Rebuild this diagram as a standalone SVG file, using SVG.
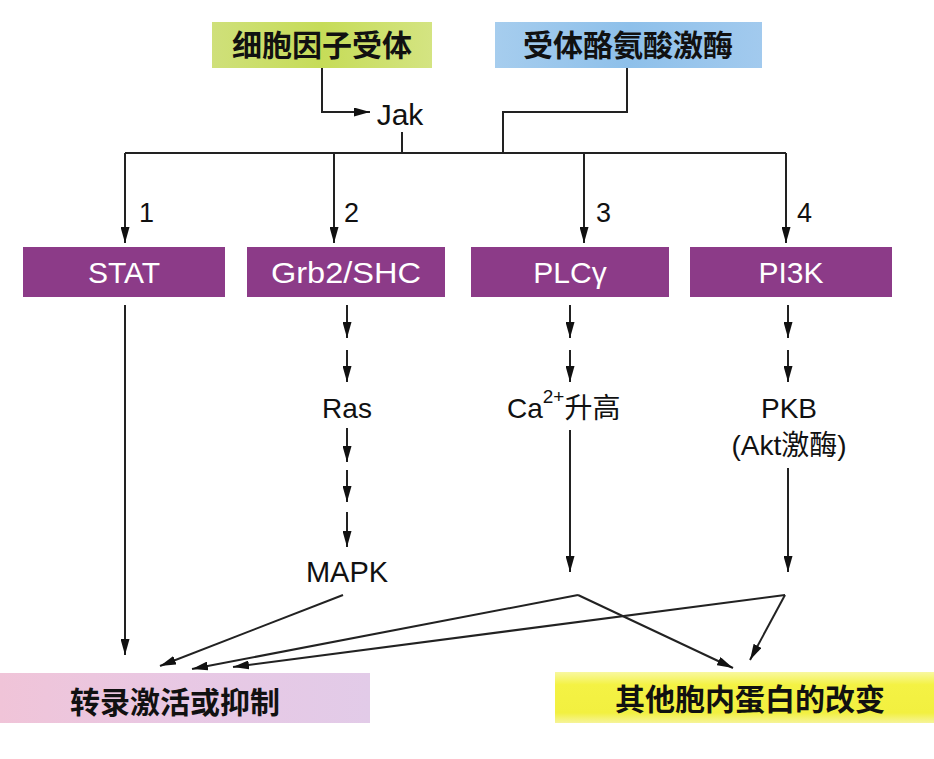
<svg xmlns="http://www.w3.org/2000/svg" width="934" height="759" viewBox="0 0 934 759">
<style>
.cjk{font-family:"Liberation Sans","Noto Sans CJK SC",sans-serif;font-weight:bold;font-size:30px;fill:#111;text-anchor:middle}
.lab{font-family:"Liberation Sans","Noto Sans CJK SC",sans-serif;font-size:28px;fill:#111;text-anchor:middle}
.pl{font-family:"Liberation Sans",sans-serif;font-size:30px;fill:#fff;text-anchor:middle}
.num{font-family:"Liberation Sans",sans-serif;font-size:27px;fill:#111}
.ln{fill:none;stroke:#222;stroke-width:2}
.arr{fill:none;stroke:#222;stroke-width:2;marker-end:url(#ah)}
.pbox{fill:#8c3b88}
</style>
<defs>
<marker id="ah" markerUnits="userSpaceOnUse" markerWidth="16" markerHeight="9" refX="16" refY="4.5" orient="auto">
<path d="M0,0 L16,4.5 L0,9 z" fill="#111"/>
</marker>
<linearGradient id="gGreen" x1="0" y1="0" x2="1" y2="0">
<stop offset="0" stop-color="#cfe07a"/><stop offset="0.5" stop-color="#c6dc58"/><stop offset="1" stop-color="#d4e482"/>
</linearGradient>
<linearGradient id="gBlue" x1="0" y1="0" x2="1" y2="0">
<stop offset="0" stop-color="#a6cdee"/><stop offset="0.5" stop-color="#8ec0ea"/><stop offset="1" stop-color="#a2caee"/>
</linearGradient>
<linearGradient id="gPink" x1="0" y1="0" x2="1" y2="0">
<stop offset="0" stop-color="#f0c4d8"/><stop offset="0.5" stop-color="#e8c8e4"/><stop offset="1" stop-color="#e2cbe8"/>
</linearGradient>
<linearGradient id="gYellow" x1="0" y1="0" x2="0" y2="1">
<stop offset="0" stop-color="#f8f8a0"/><stop offset="0.25" stop-color="#f4f244"/><stop offset="0.8" stop-color="#f2f040"/><stop offset="1" stop-color="#f6f49a"/>
</linearGradient>
</defs>

<g id="cytokine-receptor">
<rect x="212" y="22" width="220" height="46" fill="url(#gGreen)"/>
<text class="cjk" x="322" y="56">细胞因子受体</text>
</g>
<g id="rtk">
<rect x="495" y="22" width="267" height="46" fill="url(#gBlue)"/>
<text class="cjk" x="628" y="56">受体酪氨酸激酶</text>
</g>
<g id="jak">
<text class="lab" x="400" y="125" style="font-size:30px">Jak</text>
</g>
<g id="n1"><text class="num" x="139" y="222">1</text></g>
<g id="n2"><text class="num" x="344" y="222">2</text></g>
<g id="n3"><text class="num" x="596" y="222">3</text></g>
<g id="n4"><text class="num" x="797" y="222">4</text></g>

<g id="stat">
<rect class="pbox" x="23" y="247" width="202" height="50"/>
<text class="pl" x="124" y="283">STAT</text>
</g>
<g id="grb2">
<rect class="pbox" x="247" y="247" width="198" height="50"/>
<text class="pl" x="346" y="283" textLength="150" lengthAdjust="spacingAndGlyphs">Grb2/SHC</text>
</g>
<g id="plc">
<rect class="pbox" x="471" y="247" width="198" height="50"/>
<text class="pl" x="570" y="283">PLCγ</text>
</g>
<g id="pi3k">
<rect class="pbox" x="690" y="247" width="202" height="50"/>
<text class="pl" x="791" y="283">PI3K</text>
</g>

<g id="ras"><text class="lab" x="347" y="418">Ras</text></g>
<g id="mapk"><text class="lab" x="347" y="582" style="font-size:29px">MAPK</text></g>
<g id="ca">
<text class="lab" x="507" y="418" style="text-anchor:start">Ca<tspan dy="-15" style="font-size:19px">2+</tspan><tspan dy="15" style="font-size:28px">升高</tspan></text>
</g>
<g id="pkb">
<text class="lab" x="789" y="418">PKB</text>
<text class="lab" x="789" y="455">(Akt激酶)</text>
</g>

<g id="transcription">
<rect x="0" y="673" width="370" height="50" fill="url(#gPink)"/>
<text class="cjk" x="175" y="713">转录激活或抑制</text>
</g>
<g id="other-proteins">
<rect x="555" y="672" width="379" height="51" fill="url(#gYellow)"/>
<text class="cjk" x="750" y="710">其他胞内蛋白的改变</text>
</g>

<g id="connectors">
<path class="arr" d="M322,68 V112 H370"/>
<path class="ln" d="M402,132 V153"/>
<path class="ln" d="M627,68 V112 H503 V153"/>
<path class="ln" d="M125,153 H786"/>
<path class="arr" d="M125,153 V243"/>
<path class="arr" d="M334,153 V243"/>
<path class="arr" d="M584,153 V243"/>
<path class="arr" d="M786,153 V243"/>

<path class="arr" d="M125,305 V655"/>

<path class="arr" d="M347,305 V338"/>
<path class="arr" d="M347,350 V382"/>
<path class="arr" d="M347,428 V462"/>
<path class="arr" d="M347,470 V502"/>
<path class="arr" d="M347,512 V547"/>

<path class="arr" d="M570,305 V338"/>
<path class="arr" d="M570,350 V382"/>
<path class="arr" d="M570,430 V572"/>

<path class="arr" d="M788,305 V338"/>
<path class="arr" d="M788,350 V382"/>
<path class="arr" d="M788,468 V572"/>

<path class="arr" d="M343,595 L160,666"/>
<path class="arr" d="M578,595 L192,669"/>
<path class="arr" d="M578,595 L733,668"/>
<path class="arr" d="M785,595 L233,667"/>
<path class="arr" d="M785,595 L750,660"/>
</g>
</svg>
